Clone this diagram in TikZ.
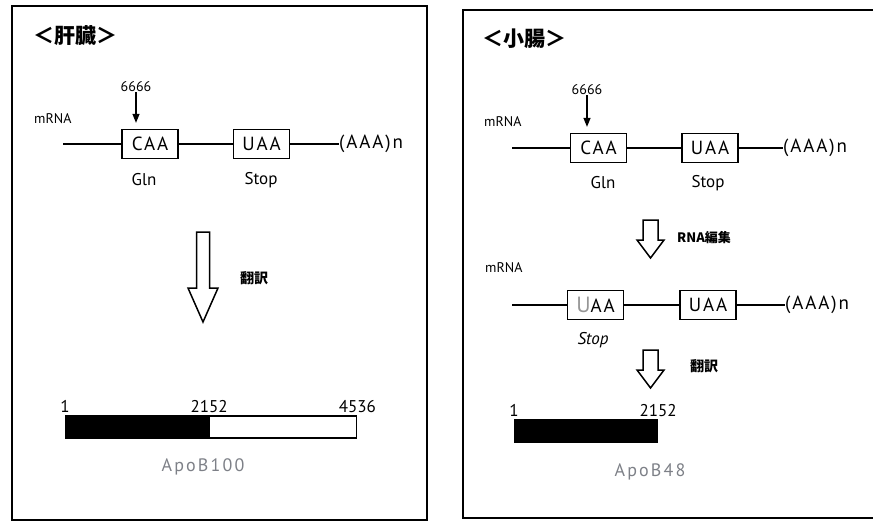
\documentclass[tikz,border=0pt]{standalone}
\usepackage{fontspec}
\setmainfont{PT Sans}
\newfontfamily\jpfont{Noto Sans CJK JP}
\newfontfamily\apofont{PT Sans}[LetterSpace=12]
\newfontfamily\codonfont{PT Sans}[LetterSpace=10]
\usetikzlibrary{positioning,arrows.meta,calc}
\definecolor{ApoGray}{RGB}{125,128,135}
\definecolor{EditGray}{RGB}{150,150,150}

\begin{document}
\begin{tikzpicture}[
  x=1pt, y=-1pt,
  panel/.style={draw, line width=1.8pt},
  title/.style={font=\jpfont\bfseries\fontsize{21}{21}\selectfont, anchor=west, inner sep=0pt},
  codon/.style={draw, line width=1.3pt, minimum width=56pt, minimum height=29pt, inner sep=0pt, font=\codonfont\fontsize{19}{19}\selectfont},
  tag/.style={font=\fontsize{17}{17}\selectfont, inner sep=0pt},
  tail/.style={font=\codonfont\fontsize{19}{19}\selectfont, inner sep=0pt, anchor=west},
  tiny/.style={font=\fontsize{14}{14}\selectfont, inner sep=0pt},
  jptag/.style={font=\jpfont\bfseries\fontsize{14}{14}\selectfont, inner sep=0pt},
  rna/.style={line width=2pt},
  pin/.style={-{Triangle[length=9pt,width=7pt]}, line width=1.2pt, shorten >=6pt},
  hollow/.style={draw, line width=1.5pt, line join=miter},
  bar/.style={draw, line width=1.2pt, minimum height=22pt, inner sep=0pt},
  apo/.style={font=\apofont\fontsize{18}{18}\selectfont, text=ApoGray, inner sep=0pt}
]
\useasboundingbox (0,0) rectangle (873,525);

% liver
\draw[panel] (12,6) rectangle (427,520);
\node[title] (ttlL) at (33,36) {＜肝臓＞};
\node[tiny, anchor=west] (mrnaL) at (34,119) {mRNA};
\coordinate (startL) at (63,144);
\node[codon] (caaL) at (150,144) {CAA};
\node[codon] (uaaL) at (261.5,144) {UAA};
\node[tail] (polyL) at (339,144) {(AAA)n};
\node[tiny] (posL) at (136,87) {6666};
\node[tag] (glnL) at (144,180) {Gln};
\node[tag] (stopL) at (261,180) {Stop};
\draw[rna] (startL) -- (caaL);
\draw[rna] (caaL) -- (uaaL);
\draw[rna] (uaaL) -- (polyL);
\draw[pin] (posL.south) -- (posL.south |- caaL.north);

\coordinate (trL) at (203,232);
\draw[hollow] ($(trL)+(-6.5,0)$) -- ++(0,56) -- ++(-8.5,0) -- ++(15,34) -- ++(15,-34) -- ++(-8.5,0) -- ++(0,-56) -- cycle;
\node[jptag, anchor=west] (transL) at (240,278) {翻訳};

\node[bar, fill=black, minimum width=143pt, anchor=west] (blackL) at (65,427) {};
\node[bar, fill=white, minimum width=147pt, right=0pt of blackL] (whiteL) {};
\node[tag, anchor=south, above=3pt of blackL.north west] (oneL) {1};
\node[tag, anchor=south, above=3pt of blackL.north east] (midL) {2152};
\node[tag, anchor=south, above=3pt of whiteL.north east] (endL) {4536};
\node[apo] (apoL) at (203,467) {ApoB100};

% small intestine
\draw[panel] (463,10) rectangle (876,518);
\node[title] (ttlR) at (482,39) {＜小腸＞};
\node[tiny, anchor=west] (mrnaR) at (484,122) {mRNA};
\coordinate (startR) at (512,148);
\node[codon] (caaR) at (598.5,148) {CAA};
\node[codon] (uaaR) at (710,148) {UAA};
\node[tail] (polyR) at (783,148) {(AAA)n};
\node[tiny] (posR) at (587,90) {6666};
\node[tag] (glnR) at (603,183) {Gln};
\node[tag] (stopR) at (708,183) {Stop};
\draw[rna] (startR) -- (caaR);
\draw[rna] (caaR) -- (uaaR);
\draw[rna] (uaaR) -- (polyR);
\draw[pin] (posR.south) -- (posR.south |- caaR.north);

\coordinate (edR) at (650.5,220);
\draw[hollow] ($(edR)+(-7.5,0)$) -- ++(0,20) -- ++(-6,0) -- ++(13.5,18) -- ++(13.5,-18) -- ++(-6,0) -- ++(0,-20) -- cycle;
\node[jptag, anchor=west, font=\jpfont\bfseries\fontsize{13}{13}\selectfont] (editR) at (677,238) {RNA編集};

\node[tiny, anchor=west] (mrnaR2) at (485,268) {mRNA};
\coordinate (startR2) at (512,305);
\node[codon] (uagR) at (595.5,305) {\textcolor{EditGray}{\fontsize{22}{22}\selectfont U}AA};
\node[codon] (uaaR2) at (708,305) {UAA};
\node[tail] (polyR2) at (785,305) {(AAA)n};
\node[tag, font=\itshape\fontsize{17}{17}\selectfont] (stopR2) at (593,340) {Stop};
\draw[rna] (startR2) -- (uagR);
\draw[rna] (uagR) -- (uaaR2);
\draw[rna] (uaaR2) -- (polyR2);

\coordinate (trR) at (650.5,350);
\draw[hollow] ($(trR)+(-7.5,0)$) -- ++(0,20) -- ++(-6,0) -- ++(13.5,18) -- ++(13.5,-18) -- ++(-6,0) -- ++(0,-20) -- cycle;
\node[jptag, anchor=west] (transR) at (690,366) {翻訳};

\node[bar, fill=black, minimum width=143pt, anchor=west] (blackR) at (514,431) {};
\node[tag, anchor=south, above=3pt of blackR.north west] (oneR) {1};
\node[tag, anchor=south, above=3pt of blackR.north east] (midR) {2152};
\node[apo] (apoR) at (650,472) {ApoB48};
\end{tikzpicture}
\end{document}
